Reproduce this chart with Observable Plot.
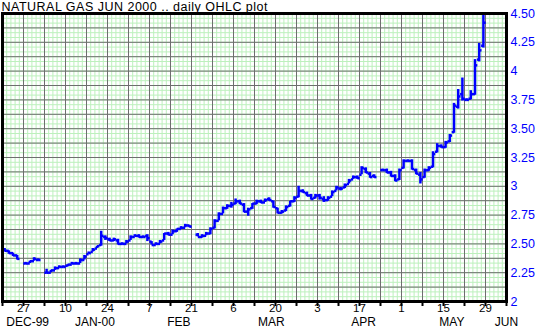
<!DOCTYPE html>
<html><head><meta charset="utf-8">
<script src="https://cdn.jsdelivr.net/npm/d3@7"></script>
<script src="https://cdn.jsdelivr.net/npm/@observablehq/plot@0.6"></script>
<style>body{margin:0;background:#fff} svg{display:block}</style>
</head><body><div id="chart"></div>
<script>
const title = "NATURAL GAS JUN 2000 .. daily OHLC plot";

const dates = [
"1999-12-20","1999-12-21","1999-12-22","1999-12-23","1999-12-27","1999-12-28","1999-12-29","1999-12-30",
"2000-01-03","2000-01-04","2000-01-05","2000-01-06","2000-01-07","2000-01-10","2000-01-11","2000-01-12","2000-01-13","2000-01-14",
"2000-01-17","2000-01-18","2000-01-19","2000-01-20","2000-01-21","2000-01-24","2000-01-25","2000-01-26","2000-01-27","2000-01-28","2000-01-31",
"2000-02-01","2000-02-02","2000-02-03","2000-02-04","2000-02-07","2000-02-08","2000-02-09","2000-02-10","2000-02-11",
"2000-02-14","2000-02-15","2000-02-16","2000-02-17","2000-02-18","2000-02-22","2000-02-23","2000-02-24","2000-02-25","2000-02-28","2000-02-29",
"2000-03-01","2000-03-02","2000-03-03","2000-03-06","2000-03-07","2000-03-08","2000-03-09","2000-03-10","2000-03-13","2000-03-14","2000-03-15","2000-03-16","2000-03-17",
"2000-03-20","2000-03-21","2000-03-22","2000-03-23","2000-03-24","2000-03-27","2000-03-28","2000-03-29","2000-03-30","2000-03-31",
"2000-04-03","2000-04-04","2000-04-05","2000-04-06","2000-04-07","2000-04-10","2000-04-11","2000-04-12","2000-04-13","2000-04-14",
"2000-04-17","2000-04-18","2000-04-19","2000-04-20","2000-04-24","2000-04-25","2000-04-26","2000-04-27","2000-04-28",
"2000-05-01","2000-05-02","2000-05-03","2000-05-04","2000-05-05","2000-05-08","2000-05-09","2000-05-10","2000-05-11","2000-05-12",
"2000-05-15","2000-05-16","2000-05-17","2000-05-18","2000-05-19","2000-05-22","2000-05-23","2000-05-24","2000-05-25","2000-05-26"
];
const open = [
2.45,2.44,2.42,2.40,2.33,2.33,2.35,2.36,
2.25,2.25,2.27,2.29,2.30,2.31,2.32,2.33,2.33,2.36,
2.41,2.43,2.46,2.49,2.56,2.54,2.53,2.53,2.50,2.50,2.53,
2.56,2.57,2.56,2.57,2.52,2.49,2.50,2.53,2.59,
2.58,2.61,2.63,2.64,2.66,2.58,2.56,2.57,2.59,2.64,2.70,
2.76,2.81,2.83,2.85,2.87,2.84,2.78,2.81,2.85,2.87,2.86,2.89,2.87,
2.81,2.77,2.79,2.83,2.87,2.91,2.96,2.94,2.92,2.90,
2.92,2.89,2.88,2.91,2.96,2.98,2.99,3.02,3.06,3.08,
3.10,3.15,3.11,3.09,3.14,3.14,3.12,3.09,3.06,
3.16,3.22,3.22,3.14,3.10,3.08,3.14,3.17,3.30,3.35,
3.34,3.39,3.47,3.69,3.80,3.75,3.76,3.80,4.10,4.22
];
const high = [
2.46,2.44,2.42,2.40,2.34,2.35,2.38,2.37,
2.28,2.27,2.30,2.31,2.31,2.32,2.34,2.34,2.37,2.40,
2.43,2.46,2.48,2.61,2.57,2.55,2.55,2.54,2.51,2.53,2.57,
2.58,2.58,2.57,2.58,2.52,2.51,2.53,2.59,2.60,
2.62,2.63,2.65,2.67,2.66,2.59,2.58,2.60,2.64,2.71,2.77,
2.82,2.84,2.86,2.89,2.88,2.85,2.81,2.85,2.88,2.88,2.89,2.90,2.87,
2.81,2.79,2.83,2.87,2.91,3.00,2.97,2.95,2.93,2.93,
2.93,2.91,2.91,2.96,3.00,2.99,3.02,3.06,3.09,3.09,
3.17,3.16,3.12,3.10,3.15,3.15,3.13,3.10,3.15,
3.23,3.23,3.23,3.15,3.12,3.15,3.17,3.30,3.37,3.36,
3.39,3.45,3.72,3.84,3.94,3.76,3.83,4.10,4.24,4.50
];
const low = [
2.43,2.41,2.39,2.36,2.32,2.33,2.35,2.35,
2.24,2.25,2.27,2.29,2.29,2.30,2.32,2.32,2.33,2.36,
2.41,2.43,2.46,2.48,2.53,2.52,2.52,2.49,2.49,2.50,2.53,
2.56,2.55,2.55,2.52,2.49,2.49,2.50,2.53,2.57,
2.58,2.60,2.63,2.64,2.64,2.56,2.55,2.57,2.58,2.63,2.70,
2.76,2.80,2.81,2.84,2.84,2.77,2.74,2.80,2.84,2.85,2.86,2.87,2.81,
2.76,2.76,2.78,2.82,2.86,2.90,2.94,2.91,2.88,2.89,
2.88,2.86,2.87,2.91,2.96,2.96,2.98,3.02,3.06,3.06,
3.10,3.11,3.07,3.07,3.13,3.11,3.08,3.04,3.05,
3.15,3.21,3.14,3.10,3.02,3.07,3.13,3.16,3.29,3.33,
3.33,3.38,3.46,3.67,3.74,3.74,3.75,3.79,4.08,4.20
];
const close = [
2.44,2.42,2.40,2.37,2.33,2.35,2.37,2.36,
2.25,2.27,2.29,2.30,2.30,2.32,2.33,2.33,2.36,2.39,
2.42,2.45,2.48,2.57,2.55,2.53,2.54,2.50,2.50,2.52,2.56,
2.57,2.56,2.56,2.55,2.49,2.50,2.52,2.59,2.58,
2.61,2.63,2.64,2.66,2.65,2.56,2.57,2.59,2.63,2.70,2.76,
2.81,2.83,2.84,2.87,2.85,2.78,2.80,2.85,2.87,2.86,2.88,2.88,2.82,
2.77,2.78,2.82,2.87,2.90,2.96,2.95,2.92,2.89,2.92,
2.90,2.88,2.90,2.95,2.99,2.98,3.01,3.05,3.08,3.07,
3.16,3.12,3.08,3.08,3.14,3.12,3.09,3.05,3.14,
3.22,3.22,3.15,3.11,3.06,3.14,3.16,3.28,3.35,3.34,
3.38,3.44,3.70,3.78,3.76,3.75,3.80,4.05,4.18,4.42
];

const yTicks = [2, 2.25, 2.5, 2.75, 3, 3.25, 3.5, 3.75, 4, 4.25, 4.5];
const yTickLabels = ["2","2.25","2.50","2.75","3","3.25","3.50","3.75","4","4.25","4.50"];
const xTickDates = ["1999-12-27","2000-01-10","2000-01-24","2000-02-07","2000-02-21","2000-03-06","2000-03-20","2000-04-03","2000-04-17","2000-05-01","2000-05-15","2000-05-29"];
const xTickLabels = ["27","10","24","7","21","6","20","3","17","1","15","29"];
const monthDates = ["1999-12-28","2000-01-19","2000-02-16","2000-03-17","2000-04-18","2000-05-17","2000-06-05"];
const monthLabels = ["DEC-99","JAN-00","FEB","MAR","APR","MAY","JUN"];

// weekday slot index counted from Monday 1999-12-20 (5 slots per week)
const origin = Date.UTC(1999, 11, 20);
function slotOf(s) {
  const [y, m, d] = s.split("-").map(Number);
  const days = Math.round((Date.UTC(y, m - 1, d) - origin) / 864e5);
  return Math.floor(days / 7) * 5 + (days % 7);
}

const bars = dates.map((d, i) => ({s: slotOf(d) + 0.5, o: open[i], h: high[i], l: low[i], c: close[i]}));
const xTickSlots = xTickDates.map(slotOf);
const monthSlots = monthDates.map(slotOf);
const weekSlots = d3.range(0, 121, 5);
const daySlots = d3.range(0, 121, 1);
const majorY = d3.range(0, 21).map(k => 2 + k * 0.125);
const minorY = d3.range(0, 61).map(k => 2 + k * 0.125 / 3);

const blue = "#0000ff";

const chart = Plot.plot({
  width: 535,
  height: 328,
  marginLeft: 2,
  marginRight: 29,
  marginTop: 13,
  marginBottom: 27,
  style: {fontFamily: "'Liberation Sans', Arial, sans-serif", background: "#fff", color: "black"},
  x: {domain: [0, 120], axis: null},
  y: {domain: [2, 4.5], axis: null},
  marks: [
    Plot.ruleX(daySlots, {stroke: "#bdf0bd", strokeWidth: 1}),
    Plot.ruleY(minorY, {stroke: "#bdf0bd", strokeWidth: 1}),
    Plot.ruleX(weekSlots, {stroke: "#6e6e6e", strokeWidth: 1}),
    Plot.ruleY(majorY, {stroke: "#6e6e6e", strokeWidth: 1}),
    Plot.ruleX(bars, {x: "s", y1: "l", y2: "h", stroke: blue, strokeWidth: 2.5}),
    Plot.link(bars, {x1: d => d.s - 0.55, x2: "s", y1: "o", y2: "o", stroke: blue, strokeWidth: 2.5}),
    Plot.link(bars, {x1: "s", x2: d => d.s + 0.55, y1: "c", y2: "c", stroke: blue, strokeWidth: 2.5}),
    Plot.frame({stroke: "black", strokeWidth: 3}),
    Plot.axisX({ticks: weekSlots, tickSize: 5, strokeWidth: 2, tickFormat: () => "", label: null}),
    Plot.axisX({ticks: xTickSlots, tickSize: 0, tickPadding: 2.5, fontSize: 11.5, label: null,
      tickFormat: d => xTickLabels[xTickSlots.indexOf(d)]}),
    Plot.text(monthLabels, {x: (d, i) => monthSlots[i], text: d => d, frameAnchor: "bottom",
      lineAnchor: "top", dy: 15.5, fontSize: 12, fill: "black"}),
    Plot.axisY({anchor: "right", ticks: yTicks, tickSize: 0, tickPadding: 4, fontSize: 12.5, label: null,
      color: blue, textAnchor: "start", tickFormat: d => yTickLabels[yTicks.indexOf(d)]}),
    Plot.text([title], {frameAnchor: "top-left", textAnchor: "start", lineAnchor: "top",
      dy: -11.5, dx: -1, fontSize: 12.5, fill: "black"})
  ]
});
d3.select(chart).selectAll("text")
  .filter(function() { return this.textContent.indexOf("NATURAL") >= 0; })
  .attr("textLength", 266).attr("lengthAdjust", "spacing");
document.getElementById("chart").appendChild(chart);
</script>
</body></html>
